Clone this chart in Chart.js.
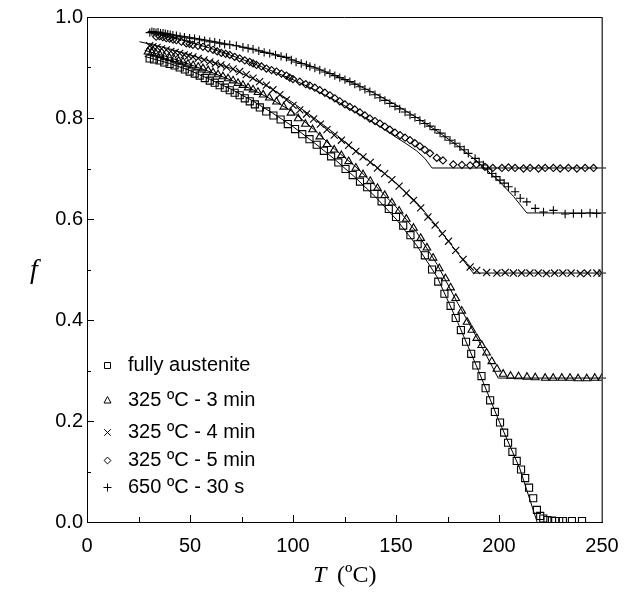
<!DOCTYPE html>
<html>
<head>
<meta charset="utf-8">
<script src="https://cdn.jsdelivr.net/npm/chart.js@4.4.1/dist/chart.umd.min.js"></script>
<style>
  html, body { margin: 0; padding: 0; background: #fff; }
  #chart { display: block; }
</style>
</head>
<body>
<canvas id="chart" width="632" height="598"></canvas>
<script>
const SANS = '"Liberation Sans", Arial, sans-serif';
const SERIF = '"Liberation Serif", "Times New Roman", serif';

// measured fraction f vs temperature T (°C)
const seriesNames = ['fully austenite', '325 ºC - 3 min', '325 ºC - 4 min', '325 ºC - 5 min', '650 ºC - 30 s'];

const sqT = [30.4, 32.5, 35.2, 37.5, 40.1, 42.5, 45, 47.5, 49.8, 52.3, 54.7, 57.2, 59.6, 62, 64.4, 66.9, 69.3, 71.7, 74.1, 76.6,
  79, 81.5, 83.9, 87, 90.5, 94, 97.5, 101, 104.5, 108, 111.5, 115, 118.5, 122, 125.5, 129, 132.5, 136, 139.5, 143,
  146.5, 150, 153.5, 157, 160.5, 164, 167.5, 170.5, 173.5, 176.5, 179, 181.5, 184, 186.5, 189, 191.5, 193.5, 195.7, 198, 200.5,
  202.5, 204.4, 206.5, 208.6, 210.7, 212.7, 214.6, 216.6, 218.4, 220, 221.5, 223.5, 225.7, 227.3, 229.2, 231, 235.4, 240.3];
const sqF = [0.918, 0.916, 0.914, 0.91, 0.907, 0.904, 0.9, 0.896, 0.892, 0.888, 0.884, 0.879, 0.874, 0.87, 0.865, 0.86, 0.855, 0.85, 0.845, 0.839,
  0.833, 0.827, 0.821, 0.813, 0.805, 0.797, 0.788, 0.778, 0.768, 0.758, 0.747, 0.735, 0.724, 0.712, 0.699, 0.687, 0.674, 0.663, 0.65, 0.635,
  0.62, 0.604, 0.587, 0.568, 0.55, 0.528, 0.5, 0.476, 0.452, 0.428, 0.404, 0.38, 0.357, 0.333, 0.31, 0.289, 0.265, 0.241, 0.218, 0.197,
  0.177, 0.157, 0.139, 0.121, 0.104, 0.087, 0.068, 0.047, 0.024, 0.012, 0.007, 0.004, 0.003, 0.002, 0.002, 0.002, 0.002, 0.002];

const triT = [29.6, 31.5, 33.5, 35.5, 37.7, 40, 42.3, 44.5, 46.6, 49, 51.5, 54, 56.3, 58.8, 61.2, 63.6, 66, 68.5, 70.9, 73.3,
  75.7, 78.2, 80.6, 83, 85.5, 88.5, 92, 95.5, 99, 102.5, 106, 109.5, 113, 116.5, 120, 123.5, 127, 130.5, 134, 137.5,
  141, 144.5, 148, 151.5, 155, 158.5, 162, 165, 168, 171, 174, 176.5, 179, 181.9, 184.5, 186.8, 189.2, 191.6, 194, 196.5,
  199, 202, 205.6, 209.5, 213.6, 217.6, 222.4, 226.3, 230.5, 234.5, 238.4, 242.6, 246.5, 250];
const triF = [0.931, 0.929, 0.927, 0.924, 0.921, 0.919, 0.916, 0.913, 0.911, 0.907, 0.904, 0.901, 0.898, 0.894, 0.89, 0.886, 0.882, 0.878, 0.874, 0.869,
  0.865, 0.86, 0.856, 0.851, 0.846, 0.84, 0.832, 0.822, 0.81, 0.799, 0.788, 0.777, 0.763, 0.748, 0.737, 0.726, 0.714, 0.701, 0.688, 0.675,
  0.661, 0.647, 0.632, 0.616, 0.6, 0.582, 0.562, 0.543, 0.523, 0.502, 0.482, 0.464, 0.443, 0.418, 0.396, 0.38, 0.364, 0.35, 0.335, 0.318,
  0.303, 0.293, 0.289, 0.288, 0.287, 0.286, 0.285, 0.285, 0.285, 0.285, 0.284, 0.284, 0.285, 0.285];

const crT = [30.4, 32, 34, 36.2, 38.5, 40.7, 42.8, 45, 47.2, 49.3, 51.4, 54, 56.8, 59.6, 62.3, 65, 67.7, 70.9, 74.1, 77.3,
  80.6, 83.8, 87.1, 90.3, 93.6, 96.8, 100, 103.3, 106.6, 110, 113.3, 116.5, 120, 123.5, 127, 130.5, 134, 137.5, 141, 144.5,
  148, 151.5, 155, 158.5, 162, 165.5, 169, 172.5, 175.5, 179, 182.6, 186, 189.2, 194, 199, 203, 207, 211, 215, 219,
  223, 227, 231, 235, 239.5, 243, 247.5, 250];
const crF = [0.943, 0.941, 0.94, 0.937, 0.935, 0.932, 0.93, 0.928, 0.925, 0.923, 0.921, 0.918, 0.915, 0.911, 0.908, 0.905, 0.901, 0.897, 0.892, 0.886,
  0.879, 0.872, 0.865, 0.856, 0.846, 0.836, 0.825, 0.816, 0.808, 0.798, 0.788, 0.777, 0.766, 0.756, 0.746, 0.734, 0.723, 0.712, 0.701, 0.69,
  0.678, 0.665, 0.651, 0.637, 0.622, 0.604, 0.588, 0.571, 0.556, 0.538, 0.52, 0.505, 0.498, 0.494, 0.493, 0.494, 0.493, 0.493, 0.493, 0.493,
  0.492, 0.493, 0.493, 0.493, 0.492, 0.493, 0.493, 0.493];

const dmT = [33.6, 35.2, 36.8, 38.5, 40.1, 41.8, 43.4, 45.8, 48.2, 49.8, 51.4, 53.9, 56.3, 58.8, 61.2, 63.2, 65.2, 67.3, 69.3, 71.7,
  74.1, 76.6, 79, 80.6, 82.3, 84.7, 87.1, 89.6, 92, 94.4, 96.8, 98.4, 100, 103.3, 106.2, 108.2, 110.6, 113, 115.5, 117.9,
  120.3, 122.7, 125.2, 127.6, 130, 132.5, 134.9, 137.3, 139.8, 142.2, 144.6, 147, 149.5, 152, 154.4, 156.8, 159.2, 161.6, 164, 166.5,
  169.8, 172.8, 177.8, 182, 186, 189, 193.2, 197, 201.4, 204.6, 207.8, 211.9, 215.1, 219.2, 222.4, 226.4, 229.7, 233.7, 237.8, 241.8, 245.9];
const dmF = [0.961, 0.962, 0.96, 0.958, 0.957, 0.955, 0.954, 0.951, 0.948, 0.947, 0.945, 0.943, 0.941, 0.938, 0.935, 0.932, 0.929, 0.927, 0.925, 0.921,
  0.918, 0.914, 0.911, 0.908, 0.905, 0.902, 0.898, 0.895, 0.892, 0.888, 0.884, 0.88, 0.877, 0.872, 0.867, 0.864, 0.86, 0.855, 0.85, 0.845,
  0.839, 0.833, 0.827, 0.822, 0.817, 0.811, 0.805, 0.799, 0.794, 0.789, 0.783, 0.777, 0.771, 0.766, 0.761, 0.756, 0.75, 0.744, 0.737, 0.73,
  0.721, 0.716, 0.708, 0.707, 0.706, 0.708, 0.703, 0.701, 0.701, 0.702, 0.701, 0.7, 0.701, 0.7, 0.701, 0.701, 0.7, 0.701, 0.7, 0.701, 0.701];

const plT = [30.5, 31.5, 32.5, 33.5, 34.5, 35.7, 36.9, 38, 39.2, 40.4, 41.7, 43.4, 45.2, 47.3, 49.8, 52.2, 54.6, 57.1, 59.6, 62,
  64.4, 66.8, 69.3, 72.5, 75.7, 78.2, 80.6, 83.4, 86, 88.7, 91.5, 94.2, 96.8, 99.2, 101.5, 104, 106.5, 108.2, 110.6, 113,
  115.5, 117.9, 120.3, 122.7, 125.2, 127.6, 130, 132.5, 134.9, 137.3, 139.8, 142.2, 144.6, 147, 149.5, 151.8, 154.4, 156.8, 159.2, 161.6,
  164, 166.5, 168.9, 171.4, 173.8, 176.2, 178.6, 181, 183.1, 185.1, 188.4, 190.4, 192.4, 194.5, 196.5, 198.5, 200.5, 202.5, 204.6, 207.8,
  210.3, 213.5, 217.6, 221.6, 226.4, 232.1, 236.1, 240.1, 244.2, 247.4];
const plF = [0.969, 0.971, 0.97, 0.969, 0.97, 0.968, 0.968, 0.967, 0.966, 0.965, 0.964, 0.963, 0.961, 0.96, 0.958, 0.957, 0.955, 0.953, 0.951, 0.95,
  0.948, 0.946, 0.945, 0.943, 0.94, 0.938, 0.936, 0.933, 0.93, 0.928, 0.925, 0.922, 0.92, 0.915, 0.911, 0.908, 0.905, 0.902, 0.899, 0.895,
  0.891, 0.888, 0.884, 0.88, 0.876, 0.872, 0.867, 0.862, 0.857, 0.852, 0.846, 0.84, 0.835, 0.829, 0.823, 0.818, 0.812, 0.806, 0.801, 0.795,
  0.789, 0.784, 0.777, 0.77, 0.763, 0.756, 0.75, 0.743, 0.737, 0.73, 0.72, 0.713, 0.707, 0.699, 0.69, 0.684, 0.677, 0.671, 0.664, 0.654,
  0.641, 0.634, 0.621, 0.614, 0.617, 0.61, 0.611, 0.611, 0.612, 0.611];

// fitted curves
const sqFitT = [28, 40, 50, 60, 70, 80, 90, 100, 110, 120, 130, 140, 150, 160, 170, 180, 190, 200, 210, 218.5];
const sqFitF = [0.922, 0.908, 0.894, 0.876, 0.857, 0.835, 0.81, 0.783, 0.752, 0.719, 0.683, 0.644, 0.6, 0.548, 0.485, 0.395, 0.3, 0.2, 0.107, 0];
const triFitT = [28, 40, 50, 60, 70, 80, 90, 100, 110, 120, 130, 140, 150, 160, 170, 180, 190, 199.6, 252];
const triFitF = [0.934, 0.92, 0.906, 0.891, 0.875, 0.857, 0.836, 0.812, 0.778, 0.739, 0.705, 0.666, 0.624, 0.574, 0.51, 0.433, 0.36, 0.285, 0.285];
const crFitT = [25.5, 30, 40, 50, 60, 70, 80, 90, 100, 110, 120, 130, 140, 150, 160, 170, 180, 187.5, 252];
const crFitF = [0.951, 0.947, 0.937, 0.925, 0.912, 0.898, 0.879, 0.857, 0.83, 0.801, 0.77, 0.737, 0.705, 0.671, 0.633, 0.585, 0.532, 0.493, 0.493];
const dmFitT = [30, 40, 50, 60, 70, 80, 90, 100, 110, 120, 130, 140, 150, 155, 160, 164, 167.5, 252];
const dmFitF = [0.969, 0.961, 0.95, 0.938, 0.924, 0.909, 0.893, 0.876, 0.857, 0.836, 0.813, 0.789, 0.762, 0.749, 0.735, 0.72, 0.701, 0.701];
const plFitT = [30, 40, 50, 60, 70, 80, 90, 100, 110, 120, 130, 140, 150, 160, 170, 180, 190, 200, 207, 213.5, 252];
const plFitF = [0.972, 0.966, 0.96, 0.953, 0.945, 0.937, 0.927, 0.915, 0.901, 0.885, 0.868, 0.848, 0.826, 0.801, 0.774, 0.745, 0.712, 0.675, 0.645, 0.612, 0.612];

const xTickStep = 25;   // labels every 50
const yTickStep = 0.1;  // labels every 0.2

function pts(ts, fs) {
  return ts.map((t, i) => ({ x: t, y: fs[i] }));
}

function markerSet(label, ts, fs, style, radius) {
  return {
    label: label,
    data: pts(ts, fs),
    showLine: false,
    pointStyle: style,
    pointRadius: radius,
    pointBorderWidth: 1.1,
    pointBorderColor: '#000',
    pointBackgroundColor: 'rgba(255,255,255,0)',
    order: 1
  };
}

function fitSet(ts, fs) {
  return {
    label: '',
    data: pts(ts, fs),
    showLine: true,
    pointRadius: 0,
    borderColor: '#000',
    borderWidth: 1,
    tension: 0,
    fill: false,
    clip: false,
    order: 2
  };
}

const markerStyles = ['rect', 'triangle', 'crossRot', 'rectRot', 'cross'];

// inward tick marks, top/right frame
const frame = {
  id: 'frame',
  afterDraw(chart) {
    const { ctx, chartArea: a, scales: { x, y } } = chart;
    ctx.save();
    ctx.strokeStyle = '#000';
    ctx.lineWidth = 1;
    ctx.beginPath();
    x.ticks.forEach(t => {
      const px = Math.round(x.getPixelForValue(t.value)) + 0.5;
      const len = Math.round(t.value) % 50 === 0 ? 7 : 5;
      ctx.moveTo(px, a.bottom);
      ctx.lineTo(px, a.bottom - len);
    });
    y.ticks.forEach(t => {
      const py = Math.round(y.getPixelForValue(t.value)) + 0.5;
      const len = Math.round(t.value * 10) % 2 === 0 ? 7 : 4;
      ctx.moveTo(a.left, py);
      ctx.lineTo(a.left + len, py);
    });
    ctx.moveTo(a.left, a.top + 0.5);
    ctx.lineTo(a.right, a.top + 0.5);
    ctx.stroke();
    ctx.strokeStyle = '#444';
    ctx.lineWidth = 1.5;
    ctx.beginPath();
    ctx.moveTo(a.right + 0.25, a.top);
    ctx.lineTo(a.right + 0.25, a.bottom);
    ctx.stroke();
    ctx.restore();
  }
};

function drawMark(ctx, style, x, y) {
  ctx.beginPath();
  if (style === 'rect') {
    ctx.rect(x - 3, y - 3, 6, 6);
  } else if (style === 'triangle') {
    ctx.moveTo(x, y - 4);
    ctx.lineTo(x + 3.5, y + 2.5);
    ctx.lineTo(x - 3.5, y + 2.5);
    ctx.closePath();
  } else if (style === 'crossRot') {
    ctx.moveTo(x - 3.3, y - 3.3); ctx.lineTo(x + 3.3, y + 3.3);
    ctx.moveTo(x + 3.3, y - 3.3); ctx.lineTo(x - 3.3, y + 3.3);
  } else if (style === 'rectRot') {
    ctx.moveTo(x - 3.4, y); ctx.lineTo(x, y - 3.4);
    ctx.lineTo(x + 3.4, y); ctx.lineTo(x, y + 3.4);
    ctx.closePath();
  } else {
    ctx.moveTo(x - 4, y); ctx.lineTo(x + 4, y);
    ctx.moveTo(x, y - 4); ctx.lineTo(x, y + 4);
  }
  ctx.stroke();
}

// legend box in the lower left of the plot, plus axis titles
const annotations = {
  id: 'annotations',
  afterDraw(chart) {
    const ctx = chart.ctx;
    const rows = [365, 400, 432, 460, 487];
    ctx.save();
    ctx.strokeStyle = '#000';
    ctx.fillStyle = '#000';
    ctx.lineWidth = 1;
    ctx.font = '20px ' + SANS;
    ctx.textBaseline = 'middle';
    ctx.textAlign = 'left';
    seriesNames.forEach((name, i) => {
      drawMark(ctx, markerStyles[i], 107.5, rows[i] + 0.5);
      ctx.fillText(name, 128, rows[i]);
    });

    ctx.font = 'italic 28px ' + SERIF;
    ctx.textAlign = 'center';
    ctx.fillText('f', 34, 271);

    ctx.font = 'italic 24px ' + SERIF;
    ctx.textBaseline = 'alphabetic';
    ctx.textAlign = 'left';
    ctx.fillText('T', 313, 582);
    ctx.font = '24px ' + SERIF;
    ctx.fillText('(ºC)', 337, 582);
    ctx.restore();
  }
};

new Chart(document.getElementById('chart'), {
  type: 'scatter',
  data: {
    datasets: [
      markerSet(seriesNames[0], sqT, sqF, 'rect', 5),
      markerSet(seriesNames[1], triT, triF, 'triangle', 4.4),
      markerSet(seriesNames[2], crT, crF, 'crossRot', 5),
      markerSet(seriesNames[3], dmT, dmF, 'rectRot', 3.6),
      markerSet(seriesNames[4], plT, plF, 'cross', 4.2),
      fitSet(sqFitT, sqFitF),
      fitSet(triFitT, triFitF),
      fitSet(crFitT, crFitF),
      fitSet(dmFitT, dmFitF),
      fitSet(plFitT, plFitF)
    ]
  },
  options: {
    responsive: false,
    animation: false,
    devicePixelRatio: 1,
    layout: { padding: { top: 17, right: 30, left: 0, bottom: 0 } },
    plugins: {
      legend: { display: false },
      tooltip: { enabled: false }
    },
    scales: {
      x: {
        type: 'linear',
        min: 0,
        max: 250,
        afterFit: s => { s.height = 76; },
        grid: { display: false, drawTicks: false },
        border: { display: true, color: '#000', width: 1 },
        ticks: {
          stepSize: xTickStep,
          padding: 12,
          color: '#000',
          font: { family: SANS, size: 20 },
          maxRotation: 0,
          autoSkip: false,
          callback: v => (Math.round(v) % 50 === 0 ? String(v) : '')
        }
      },
      y: {
        type: 'linear',
        min: 0,
        max: 1,
        afterFit: s => { s.width = 87; },
        grid: { display: false, drawTicks: false },
        border: { display: true, color: '#000', width: 1 },
        ticks: {
          stepSize: yTickStep,
          padding: 4,
          color: '#000',
          font: { family: SANS, size: 20 },
          autoSkip: false,
          callback: v => (Math.round(v * 10) % 2 === 0 ? v.toFixed(1) : '')
        }
      }
    }
  },
  plugins: [frame, annotations]
});
</script>
</body>
</html>
